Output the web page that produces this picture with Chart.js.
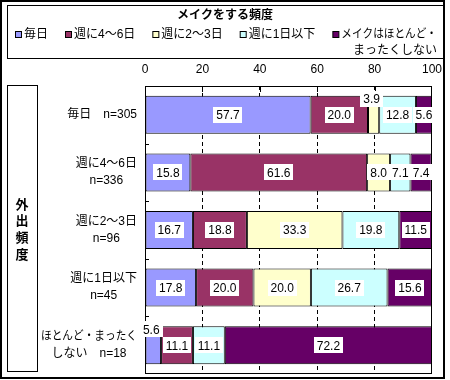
<!DOCTYPE html>
<html>
<head>
<meta charset="utf-8">
<script src="https://cdn.jsdelivr.net/npm/chart.js@4.4.0/dist/chart.umd.min.js"></script>
<style>
    body { margin: 0; background: #fff; }
    #wrap { width: 450px; height: 380px; }
</style>
</head>
<body>
<div id="wrap"><canvas id="chart"></canvas></div>
<script>
// Chart data
const chartTitle = 'メイクをする頻度';
const sideTitle = ['外', '出', '頻', '度'];
const rowLabels = [
    ['毎日　n=305'],
    ['週に4〜6日', 'n=336'],
    ['週に2〜3日', 'n=96'],
    ['週に1日以下', 'n=45'],
    ['ほとんど・まったく', 'しない　n=18']
];
const seriesNames = ['毎日', '週に4〜6日', '週に2〜3日', '週に1日以下', ['メイクはほとんど・', 'まったくしない']];
const seriesColors = ['#9999FF', '#993366', '#FFFFCC', '#CCFFFF', '#660066'];
const everyDay   = [57.7, 15.8, 16.7, 17.8, 5.6];
const fourToSix  = [20.0, 61.6, 18.8, 20.0, 11.1];
const twoToThree = [3.9, 8.0, 33.3, 20.0, 0];
const onceOrLess = [12.8, 7.1, 19.8, 26.7, 11.1];
const hardlyEver = [5.6, 7.4, 11.5, 15.6, 72.2];
const xTicks = [0, 20, 40, 60, 80, 100];

const FONT = '"Liberation Sans", "Noto Sans CJK JP", sans-serif';
function font(size, bold) {
    return (bold ? 'bold ' : '') + size + 'px ' + FONT;
}

// Frame, legend, titles and row labels
const decorations = {
    id: 'decorations',
    beforeDraw(chart) {
        const ctx = chart.ctx;
        const ca = chart.chartArea;
        ctx.save();
        ctx.fillStyle = '#fff';
        ctx.fillRect(0, 0, chart.width, chart.height);

        // outer frame
        ctx.strokeStyle = '#000';
        ctx.lineWidth = 2;
        ctx.strokeRect(1, 1, 443, 377);

        // legend box
        ctx.lineWidth = 1;
        ctx.strokeRect(7.5, 5.5, 436, 53);
        ctx.fillStyle = '#000';
        ctx.font = font(12, true);
        ctx.textAlign = 'center';
        ctx.textBaseline = 'middle';
        ctx.fillText(chartTitle, 225, 16);

        ctx.font = font(12);
        let x = 15;
        seriesNames.forEach((name, i) => {
            const lines = [].concat(name);
            ctx.fillStyle = seriesColors[i];
            ctx.fillRect(x + 0.5, 31.5, 6, 6);
            ctx.strokeRect(x + 0.5, 31.5, 6, 6);
            ctx.fillStyle = '#000';
            ctx.textAlign = 'left';
            const tx = x + 9;
            if (lines.length > 1) {
                const maxW = 437 - tx;
                const w = Math.min(ctx.measureText(lines[0]).width, maxW);
                ctx.fillText(lines[0], tx, 35, maxW);
                ctx.textAlign = 'right';
                ctx.fillText(lines[1], tx + w, 51, maxW);
            } else {
                ctx.fillText(lines[0], tx, 35);
                x = tx + ctx.measureText(lines[0]).width + 17;
            }
        });

        // x axis tick labels (top)
        const xScale = chart.scales.x;
        ctx.textAlign = 'center';
        xTicks.forEach(v => {
            ctx.fillText(String(v), xScale.getPixelForValue(v), 70);
        });

        // side title box
        ctx.strokeRect(7.5, 85.5, 30, 286);
        ctx.font = font(13, true);
        const midY = (ca.top + ca.bottom) / 2;
        sideTitle.forEach((ch, i) => {
            ctx.fillText(ch, 22, midY + (i - 1.5) * 16.7);
        });

        // row labels
        const yScale = chart.scales.y;
        ctx.font = font(12);
        rowLabels.forEach((lines, i) => {
            const cy = yScale.getPixelForValue(i);
            const widths = lines.map(l => Math.min(ctx.measureText(l).width, 96));
            const blockW = Math.max(...widths);
            const cx = 137 - blockW / 2;
            lines.forEach((l, j) => {
                const ly = cy + (j - (lines.length - 1) / 2) * 17;
                ctx.fillText(l, cx, ly, 96);
            });
        });
        ctx.restore();
    },
    afterDatasetsDraw(chart) {
        const ctx = chart.ctx;
        const ca = chart.chartArea;
        const yScale = chart.scales.y;
        const xScale = chart.scales.x;
        ctx.save();
        ctx.strokeStyle = '#000';
        ctx.lineWidth = 1;
        ctx.strokeRect(ca.left + 0.5, ca.top + 0.5, ca.right - ca.left - 1, ca.bottom - ca.top - 1);

        // small tick marks
        ctx.beginPath();
        const step = (ca.bottom - ca.top) / rowLabels.length;
        for (let i = 1; i < rowLabels.length; i++) {
            const ty = Math.round(yScale.getPixelForValue(i) - step / 2) + 0.5;
            ctx.moveTo(ca.left, ty);
            ctx.lineTo(ca.left + 4, ty);
        }
        xTicks.slice(1, -1).forEach(v => {
            const tx = Math.round(xScale.getPixelForValue(v)) + 0.5;
            ctx.moveTo(tx, ca.top);
            ctx.lineTo(tx, ca.top + 6);
        });
        ctx.stroke();

        // value labels
        ctx.font = font(12);
        ctx.textAlign = 'center';
        ctx.textBaseline = 'middle';
        const nSets = chart.data.datasets.length;
        chart.data.datasets.forEach((ds, di) => {
            const meta = chart.getDatasetMeta(di);
            meta.data.forEach((bar, i) => {
                const v = ds.data[i];
                if (!v) return;
                const text = v.toFixed(1);
                const w = ctx.measureText(text).width;
                const left = Math.min(bar.x, bar.base);
                const right = Math.max(bar.x, bar.base);
                let cx = (left + right) / 2;
                let cy = bar.y;
                if (right - left < w + 2 && di < nSets - 1) {
                    cy -= 16;
                    cx -= 2;
                }
                ctx.fillStyle = '#fff';
                ctx.fillRect(Math.round(cx - w / 2 - 3), Math.round(cy - 8), Math.round(w + 6), 16);
                ctx.fillStyle = '#000';
                ctx.fillText(text, cx, cy + 1);
            });
        });
        ctx.restore();
    }
};

const seriesValues = [everyDay, fourToSix, twoToThree, onceOrLess, hardlyEver];

new Chart(document.getElementById('chart'), {
    type: 'bar',
    data: {
        labels: rowLabels,
        datasets: seriesValues.map((vals, i) => ({
            label: [].concat(seriesNames[i]).join(''),
            data: vals,
            backgroundColor: seriesColors[i],
            borderColor: '#000',
            borderWidth: 1,
            borderSkipped: false,
            categoryPercentage: 1,
            barPercentage: 0.66
        }))
    },
    options: {
        responsive: true,
        maintainAspectRatio: false,
        animation: false,
        indexAxis: 'y',
        layout: {
            padding: { left: 145, right: 18, top: 66, bottom: 6 }
        },
        scales: {
            x: {
                stacked: true,
                position: 'top',
                min: 0,
                max: 100,
                afterBuildTicks: scale => {
                    scale.ticks = xTicks.map(v => ({ value: v }));
                },
                afterFit: scale => {
                    scale.height = 20;
                },
                ticks: {
                    display: false
                },
                grid: {
                    drawTicks: false,
                    color: ctx => (ctx.tick && (ctx.tick.value === 0 || ctx.tick.value === 100)) ? 'rgba(0,0,0,0)' : '#000'
                },
                border: {
                    display: false,
                    dash: [4, 3]
                }
            },
            y: {
                stacked: true,
                display: false
            }
        },
        plugins: {
            legend: { display: false },
            tooltip: { enabled: false }
        }
    },
    plugins: [decorations]
});
</script>
</body>
</html>
